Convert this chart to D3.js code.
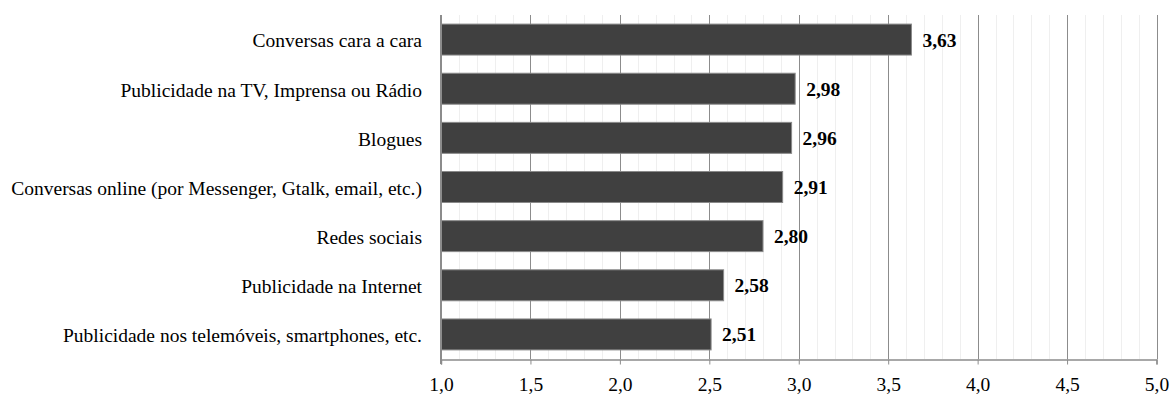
<!DOCTYPE html>
<html>
<head>
<meta charset="utf-8">
<script src="https://cdn.jsdelivr.net/npm/d3@7"></script>
<style>
  body { margin: 0; background: #fff; }
  svg text { font-family: "Liberation Serif", "Times New Roman", serif; fill: #000; }
</style>
</head>
<body>
<div id="chart"></div>
<script>
const categories = [
  "Conversas cara a cara",
  "Publicidade na TV,  Imprensa ou Rádio",
  "Blogues",
  "Conversas online (por Messenger,  Gtalk, email, etc.)",
  "Redes sociais",
  "Publicidade na Internet",
  "Publicidade nos telemóveis,  smartphones, etc."
];
const values = [3.63, 2.98, 2.96, 2.91, 2.80, 2.58, 2.51];
const majorTicks = [1.0, 1.5, 2.0, 2.5, 3.0, 3.5, 4.0, 4.5, 5.0];

const W = 1171, H = 399;
const margin = {top: 15, right: 15, bottom: 40, left: 441};

var svg = d3.select("#chart").append("svg")
  .attr("width", W).attr("height", H);

var x = d3.scaleLinear().domain([1, 5]).range([margin.left, 1156.5]);
var y = d3.scaleBand().domain(categories)
  .range([margin.top, H - margin.bottom])
  .paddingInner(0.37).paddingOuter(0.185);

var fmt = v => d3.format(".1f")(v).replace(".", ",");
var fmt2 = v => d3.format(".2f")(v).replace(".", ",");

// minor gridlines (every 0.1)
var minor = d3.range(11, 50).map(d => d / 10).filter(d => Math.round(d * 10) % 5 !== 0);
svg.append("g").selectAll("line").data(minor).enter().append("line")
  .attr("x1", d => Math.round(x(d)) + 0.5).attr("x2", d => Math.round(x(d)) + 0.5)
  .attr("y1", margin.top).attr("y2", H - margin.bottom)
  .attr("stroke", "#efefef").attr("stroke-width", 1);

// major gridlines
svg.append("g").selectAll("line").data(majorTicks.slice(1)).enter().append("line")
  .attr("x1", d => Math.round(x(d)) + 0.5).attr("x2", d => Math.round(x(d)) + 0.5)
  .attr("y1", margin.top).attr("y2", H - margin.bottom)
  .attr("stroke", "#8c8c8c").attr("stroke-width", 1);

// bars
svg.append("g").selectAll("rect").data(values).enter().append("rect")
  .attr("x", x(1))
  .attr("y", (d, i) => y(categories[i]))
  .attr("width", d => x(d) - x(1))
  .attr("height", y.bandwidth())
  .attr("fill", "#404040")
  .attr("stroke", "#8a8a8a").attr("stroke-width", 1);

// value labels
svg.append("g").selectAll("text").data(values).enter().append("text")
  .attr("x", d => x(d) + 11)
  .attr("y", (d, i) => y(categories[i]) + y.bandwidth() / 2)
  .attr("dy", "0.36em")
  .style("font-size", "19.5px").style("font-weight", "bold")
  .text(d => fmt2(d));

// category labels
svg.append("g").selectAll("text").data(categories).enter().append("text")
  .attr("x", 422)
  .attr("y", d => y(d) + y.bandwidth() / 2 + 1)
  .attr("dy", "0.35em")
  .attr("text-anchor", "end")
  .style("font-size", "19.5px")
  .text(d => d);

// x axis
var xAxis = d3.axisBottom(x).tickValues(majorTicks).tickFormat(fmt).tickSize(5).tickPadding(13);
var gx = svg.append("g").attr("transform", "translate(0," + (H - margin.bottom + 0.5) + ")").call(xAxis);
gx.select(".domain").attr("stroke", "#8c8c8c").attr("stroke-width", 1.5);
gx.selectAll(".tick line").attr("stroke", "#8c8c8c");
gx.selectAll(".tick text")
  .style("font-family", "'Liberation Serif', 'Times New Roman', serif")
  .style("font-size", "19.5px").attr("fill", "#000");

// left axis line
svg.append("line")
  .attr("x1", x(1)).attr("x2", x(1))
  .attr("y1", margin.top).attr("y2", H - margin.bottom + 5)
  .attr("stroke", "#8c8c8c").attr("stroke-width", 2);
</script>
</body>
</html>
